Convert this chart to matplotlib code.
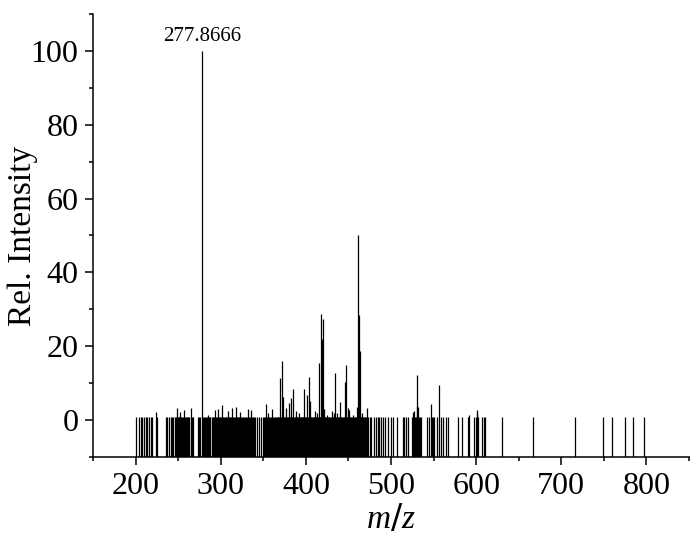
import matplotlib
matplotlib.use("Agg")
import matplotlib.pyplot as plt
from matplotlib.ticker import MultipleLocator

# ---- data ----
# labelled / elevated peaks: m/z and relative intensity
peak_mz = [223.5, 248.2, 252.4, 256.5, 264.7, 277.8666, 284.8, 293.8, 297.0, 301.5,
           308.5, 313.5, 317.7, 323.2, 332.3, 336.0, 353.4, 355.6, 360.1, 370.1,
           371.4, 373.7, 376.5, 380.4, 382.7, 384.5, 388.6, 392.0, 397.6, 401.8,
           403.6, 405.1, 410.7, 413.0, 415.6, 417.5, 418.6, 419.8, 421.5, 425.0,
           430.1, 432.5, 433.9, 437.0, 440.2, 445.8, 447.0, 449.0, 450.8, 455.0,
           460.3, 461.5, 462.7, 464.0, 466.0, 471.6, 526.2, 527.0, 530.3, 531.0,
           532.0, 547.3, 555.8, 592.0, 600.5, 601.5]
peak_int = [2.1, 3.3, 2.1, 2.6, 3.3, 100.0, 1.5, 2.6, 3.0, 4.1,
            2.5, 3.3, 3.6, 2.3, 3.1, 2.8, 4.4, 1.8, 3.0, 11.5,
            15.9, 6.2, 3.2, 4.7, 5.9, 8.5, 2.5, 1.8, 8.5, 6.8,
            11.6, 5.3, 2.5, 1.8, 15.5, 28.6, 22.0, 27.3, 3.0, 1.5,
            2.5, 2.0, 12.8, 2.0, 5.0, 10.2, 14.8, 3.2, 2.8, 1.5,
            3.5, 50.0, 28.4, 18.7, 2.0, 3.3, 2.3, 2.4, 12.1, 3.7,
            3.6, 4.4, 9.4, 1.3, 2.7, 1.6]

# low-level lines (all sitting at the same small intensity)
noise_level = 0.7
noise_mz = [
    # 200-226
    200.1, 204.0, 206.0, 207.9, 209.9, 211.9, 213.8, 215.7, 217.7, 219.6, 225.5,
    # 235-268
    235.7, 237.3, 239.2, 241.0, 242.5, 244.3, 246.2, 247.1, 249.0, 249.8, 250.7,
    251.5, 253.3, 254.2, 255.4, 257.0, 258.2, 259.1, 260.0, 261.3, 262.1, 263.0,
    265.6, 266.5, 267.4,
    # 272-341
    272.9, 274.6, 276.0, 279.5, 280.4, 281.6, 282.5, 283.4, 286.3, 287.1, 287.9,
    289.4, 290.5, 291.3, 292.6, 294.9, 295.6, 296.2, 298.0, 298.8, 299.4, 300.3,
    302.7, 303.6, 304.5, 305.8, 306.6, 307.4, 309.3, 310.6, 311.4, 312.3, 314.4,
    315.2, 316.3, 318.6, 319.5, 320.8, 321.4, 322.0, 324.1, 325.0, 326.4, 327.3,
    328.2, 329.6, 331.0, 333.2, 334.1, 335.0, 337.2, 338.1, 339.3, 340.1,
    # 343-364
    343.0, 345.2, 347.8, 349.5, 351.2, 352.4, 354.5, 356.8, 357.9, 359.0, 361.2,
    362.5, 363.7,
    # 365-471 (dense)
    365.2, 366.0, 366.9, 367.7, 368.6, 369.3, 370.6, 372.1, 372.9, 374.4, 375.2,
    376.0, 376.9, 377.7, 378.6, 379.4, 380.9, 381.7, 383.3, 384.0, 385.2, 386.0,
    386.9, 387.7, 388.4, 389.3, 390.1, 390.9, 391.6, 392.5, 393.3, 394.1, 394.9,
    395.7, 396.5, 397.2, 398.3, 399.1, 399.9, 400.7, 401.3, 402.5, 403.1, 404.2,
    405.8, 406.6, 407.4, 408.2, 409.0, 409.8, 410.3, 411.2, 412.0, 412.7, 413.6,
    414.4, 415.1, 416.2, 416.9, 418.1, 419.2, 420.6, 421.1, 422.0, 422.8, 423.6,
    424.4, 425.3, 426.1, 426.9, 427.7, 428.5, 429.3, 430.7, 431.5, 432.2, 433.1,
    434.6, 435.4, 436.2, 437.6, 438.4, 439.3, 441.0, 441.8, 442.6, 443.4, 444.2,
    445.1, 446.4, 447.8, 448.5, 449.5, 450.2, 451.6, 452.4, 453.2, 454.1, 455.8,
    456.6, 457.4, 458.2, 459.0, 459.7, 460.9, 462.1, 463.3, 464.6, 465.3, 466.7,
    467.5, 468.3, 469.2, 470.0, 470.8,
    # 473-535
    473.5, 475.1, 476.5, 479.7, 481.9, 484.2, 486.4, 488.7, 491.0, 493.2, 496.8,
    500.0, 502.2, 506.7, 513.5, 515.8, 518.0, 520.3, 524.8, 528.4, 529.2, 532.9,
    533.8, 534.7,
    # 542-611
    542.6, 545.1, 548.3, 549.6, 550.5, 554.1, 558.4, 560.7, 564.2, 567.3, 578.9,
    583.9, 590.5, 597.2, 599.6, 602.6, 607.0, 608.9, 610.5,
    # sparse high m/z
    630.5, 666.8, 715.9, 749.2, 759.0, 774.6, 784.3, 797.4,
]

label_mz = 277.8666
label_text = "277.8666"

# ---- figure ----
plt.rcParams['font.family'] = ['Liberation Serif', 'DejaVu Serif']
plt.rcParams['mathtext.fontset'] = 'custom'
plt.rcParams['mathtext.it'] = 'Liberation Serif:italic'

fig = plt.figure(figsize=(7.0, 5.41), dpi=100)
ax = fig.add_axes([0.1329, 0.1553, 0.8514, 0.8188])

y_bottom, y_top = -10, 110
all_mz = noise_mz + peak_mz
all_int = [noise_level] * len(noise_mz) + peak_int
ax.vlines(all_mz, y_bottom, all_int, color='black', linewidth=0.9)

ax.set_xlim(150, 850)
ax.set_ylim(y_bottom, y_top)

ax.text(label_mz, 101.3, label_text, ha='center', va='bottom', fontsize=15)

for s in ['top', 'right']:
    ax.spines[s].set_visible(False)
for s in ['left', 'bottom']:
    ax.spines[s].set_linewidth(1.1)

ax.xaxis.set_minor_locator(MultipleLocator(50))
ax.yaxis.set_major_locator(MultipleLocator(20))
ax.yaxis.set_minor_locator(MultipleLocator(10))
ax.set_xticks([200, 300, 400, 500, 600, 700, 800])
ax.tick_params(which='major', direction='out', length=5.5, width=1.1, labelsize=23, pad=5)
ax.tick_params(which='minor', direction='out', length=3, width=1.1)

ax.set_ylabel('Rel. Intensity', fontsize=24)
ax.yaxis.set_label_coords(-0.093, 0.50)
ax.set_xlabel('$m/z$', fontsize=24, labelpad=2)

fig.savefig('out.png', dpi=100)
